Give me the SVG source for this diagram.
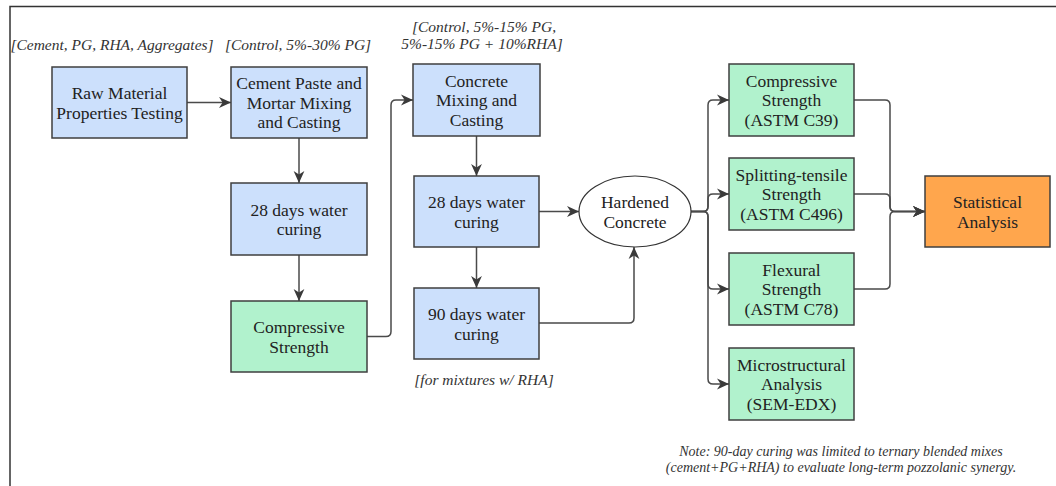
<svg xmlns="http://www.w3.org/2000/svg" width="1056" height="486" viewBox="0 0 1056 486" font-family="Liberation Serif, serif">
<defs>
<marker id="ah" markerUnits="userSpaceOnUse" markerWidth="12" markerHeight="12" refX="10" refY="5" orient="auto" viewBox="0 0 10 10">
<path d="M0,0.5 L10,5 L0,9.5 L3,5 z" fill="#3a3a3a" stroke="none"/>
</marker>
</defs>
<rect width="1056" height="486" fill="#fff"/>
<path d="M10,486 V6.5 H1056" fill="none" stroke="#333" stroke-width="1.5"/>

<g id="labels" fill="#333" text-anchor="middle" font-style="italic" font-size="15.5">
<text x="112" y="50">[Cement, PG, RHA, Aggregates]</text>
<text x="298" y="50">[Control, 5%-30% PG]</text>
<text x="484" y="32">[Control, 5%-15% PG,</text>
<text x="482" y="49">5%-15% PG + 10%RHA]</text>
<text x="484" y="385">[for mixtures w/ RHA]</text>
<text x="841" y="456" font-size="14">Note: 90-day curing was limited to ternary blended mixes</text>
<text x="841" y="472" font-size="14">(cement+PG+RHA) to evaluate long-term pozzolanic synergy.</text>
</g>

<g id="connectors" fill="none" stroke="#4a4a4a" stroke-width="1.5" marker-end="url(#ah)">
<path d="M187,102.5 H231"/>
<path d="M299,138 V183"/>
<path d="M299,255 V301"/>
<path d="M367,336.5 H386 Q391,336.5 391,331.5 V105 Q391,100 396,100 H413"/>
<path d="M476.5,136 V176"/>
<path d="M476.5,247 V288"/>
<path d="M539,211.5 H579"/>
<path d="M539,323 H629 Q634,323 634,318 V247"/>
<path d="M691,211.5 H703 Q708,211.5 708,206.5 V105 Q708,100 713,100 H729"/>
<path d="M691,211.5 H703 Q708,211.5 708,206.5 V199 Q708,194 713,194 H729"/>
<path d="M691,211.5 H703 Q708,211.5 708,216.5 V284 Q708,289 713,289 H729"/>
<path d="M691,211.5 H703 Q708,211.5 708,216.5 V379 Q708,384 713,384 H729"/>
<path d="M854,100 H885 Q890,100 890,105 V206.5 Q890,211.5 895,211.5 H925"/>
<path d="M854,194 H885 Q890,194 890,199 V206.5 Q890,211.5 895,211.5 H925"/>
<path d="M854,289 H885 Q890,289 890,284 V216.5 Q890,211.5 895,211.5 H925"/>
</g>

<g id="nodes" text-anchor="middle" font-size="17.5" stroke-width="1.5">
<g id="raw"><rect x="52" y="67" width="135" height="71" fill="#cce0fc" stroke="#3f3f3f"/>
<text x="119.5" y="99" fill="#222">Raw Material</text><text x="119.5" y="118.5" fill="#222">Properties Testing</text></g>

<g id="paste"><rect x="231" y="67" width="136" height="71" fill="#cce0fc" stroke="#3f3f3f"/>
<text x="299" y="89" fill="#222">Cement Paste and</text><text x="299" y="108.5" fill="#222">Mortar Mixing</text><text x="299" y="128" fill="#222">and Casting</text></g>

<g id="cure28a"><rect x="231" y="183" width="136" height="72" fill="#cce0fc" stroke="#3f3f3f"/>
<text x="299" y="215.5" fill="#222">28 days water</text><text x="299" y="235" fill="#222">curing</text></g>

<g id="comp1"><rect x="231" y="301" width="136" height="71" fill="#b1f2cd" stroke="#3f3f3f"/>
<text x="299" y="333" fill="#222">Compressive</text><text x="299" y="352.5" fill="#222">Strength</text></g>

<g id="concrete"><rect x="413" y="64" width="127" height="72" fill="#cce0fc" stroke="#3f3f3f"/>
<text x="476.5" y="86.5" fill="#222">Concrete</text><text x="476.5" y="106" fill="#222">Mixing and</text><text x="476.5" y="125.5" fill="#222">Casting</text></g>

<g id="cure28b"><rect x="414" y="176" width="125" height="71" fill="#cce0fc" stroke="#3f3f3f"/>
<text x="476.5" y="208" fill="#222">28 days water</text><text x="476.5" y="227.5" fill="#222">curing</text></g>

<g id="cure90"><rect x="414" y="288" width="125" height="71" fill="#cce0fc" stroke="#3f3f3f"/>
<text x="476.5" y="320" fill="#222">90 days water</text><text x="476.5" y="339.5" fill="#222">curing</text></g>

<g id="hardened"><ellipse cx="635" cy="211.5" rx="56" ry="35.5" fill="#fff" stroke="#333" stroke-width="1.2"/>
<text x="635" y="208" fill="#222">Hardened</text><text x="635" y="227.5" fill="#222">Concrete</text></g>

<g id="compC39"><rect x="729" y="64" width="125" height="72" fill="#b1f2cd" stroke="#3f3f3f"/>
<text x="791.5" y="86.5" fill="#222">Compressive</text><text x="791.5" y="106" fill="#222">Strength</text><text x="791.5" y="125.5" fill="#222">(ASTM C39)</text></g>

<g id="split"><rect x="729" y="158" width="125" height="72" fill="#b1f2cd" stroke="#3f3f3f"/>
<text x="791.5" y="180.5" fill="#222">Splitting-tensile</text><text x="791.5" y="200" fill="#222">Strength</text><text x="791.5" y="219.5" fill="#222">(ASTM C496)</text></g>

<g id="flex"><rect x="729" y="253" width="125" height="72" fill="#b1f2cd" stroke="#3f3f3f"/>
<text x="791.5" y="275.5" fill="#222">Flexural</text><text x="791.5" y="295" fill="#222">Strength</text><text x="791.5" y="314.5" fill="#222">(ASTM C78)</text></g>

<g id="micro"><rect x="729" y="348" width="125" height="72" fill="#b1f2cd" stroke="#3f3f3f"/>
<text x="791.5" y="370.5" fill="#222">Microstructural</text><text x="791.5" y="390" fill="#222">Analysis</text><text x="791.5" y="409.5" fill="#222">(SEM-EDX)</text></g>

<g id="stat"><rect x="925" y="176" width="125" height="71" fill="#ffa64d" stroke="#3f3f3f"/>
<text x="987.5" y="208" fill="#222">Statistical</text><text x="987.5" y="227.5" fill="#222">Analysis</text></g>
</g>
</svg>
